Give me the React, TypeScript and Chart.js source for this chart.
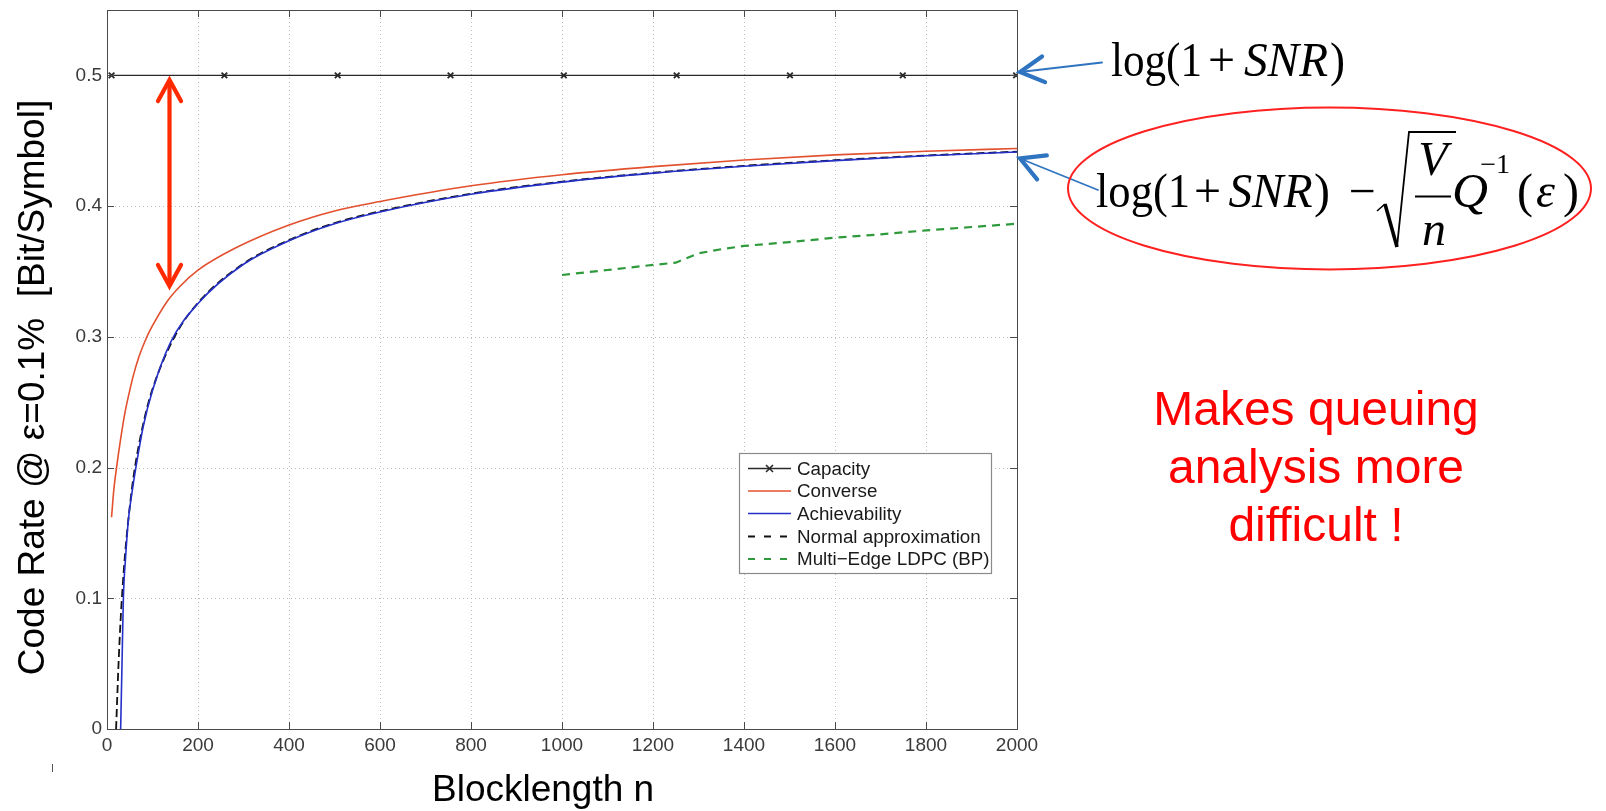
import React, { useEffect, useRef } from "react";
import { Chart, registerables } from "chart.js";

Chart.register(...registerables);

// ---------- data ----------
const xTickValues = [0, 200, 400, 600, 800, 1000, 1200, 1400, 1600, 1800, 2000];
const yTickValues = [0, 0.1, 0.2, 0.3, 0.4, 0.5];

const capacityN = [10, 258, 507, 755, 1004, 1252, 1501, 1749, 1998];
const capacityRate = [0.5, 0.5, 0.5, 0.5, 0.5, 0.5, 0.5, 0.5, 0.5];

const converseN = [10, 15, 21, 30, 40, 50, 58, 70, 87, 100, 131, 160, 200, 280, 400, 500, 600, 800, 1000, 1200, 1400, 1600, 1800, 2000];
const converseRate = [0.162, 0.183, 0.2, 0.222, 0.243, 0.259, 0.2705, 0.2845, 0.2995, 0.3085, 0.3265, 0.3385, 0.351, 0.3675, 0.3855, 0.3963, 0.4035, 0.4155, 0.424, 0.4302, 0.4352, 0.4392, 0.442, 0.444];

const achievN = [30, 33, 36, 41, 47, 55, 63, 80, 100, 140, 200, 300, 400, 500, 600, 800, 1000, 1200, 1400, 1600, 1800, 2000];
const achievRate = [0, 0.05, 0.1, 0.132, 0.16, 0.181, 0.199, 0.232, 0.259, 0.296, 0.3255, 0.3555, 0.3735, 0.3865, 0.3955, 0.409, 0.4183, 0.4252, 0.4305, 0.4348, 0.4385, 0.4414];

const normalN = [20, 25, 30, 35, 40, 50, 60, 80, 100, 150, 200, 300, 400, 500, 600, 800, 1000, 1200, 1400, 1600, 1800, 2000];
const normalRate = [0, 0.047, 0.084, 0.112, 0.135, 0.17, 0.197, 0.234, 0.26, 0.301, 0.326, 0.356, 0.374, 0.387, 0.396, 0.4095, 0.4187, 0.4255, 0.4308, 0.4351, 0.4387, 0.4417];

const ldpcN = [1000, 1100, 1200, 1250, 1300, 1350, 1400, 1500, 1600, 1700, 1800, 1900, 2000];
const ldpcRate = [0.3473, 0.3511, 0.355, 0.3567, 0.3639, 0.367, 0.3695, 0.3725, 0.3758, 0.3784, 0.3814, 0.384, 0.3865];

const seriesLabels = ["Capacity", "Converse", "Achievability", "Normal approximation", "Multi\u2212Edge LDPC (BP)"];
const xTitle = "Blocklength n";
const yTitle = "Code Rate @ \u03b5=0.1%  [Bit/Symbol]";
const noteLines = ["Makes queuing", "analysis more", "difficult !"];

const SANS = '"Liberation Sans", Arial, Helvetica, sans-serif';
const SERIF = '"Liberation Serif", "Times New Roman", serif';

const C_CAP = "#2a2a2a";
const C_CONV = "#e2502e";
const C_ACH = "#2530c8";
const C_NORM = "#111111";
const C_LDPC = "#2f9a3c";

function pts(xs: number[], ys: number[]) {
  return xs.map((x, i) => ({ x, y: ys[i] }));
}

function drawArrowHead(ctx: any, x1: number, y1: number, x2: number, y2: number, len: number, ang: number) {
  const a = Math.atan2(y2 - y1, x2 - x1);
  ctx.beginPath();
  ctx.moveTo(x2 - len * Math.cos(a - ang), y2 - len * Math.sin(a - ang));
  ctx.lineTo(x2, y2);
  ctx.lineTo(x2 - len * Math.cos(a + ang), y2 - len * Math.sin(a + ang));
  ctx.stroke();
}

function drawArrow(ctx: any, x1: number, y1: number, x2: number, y2: number, len: number, ang: number, shaftW: number, headW: number, color: string) {
  ctx.save();
  ctx.strokeStyle = color;
  ctx.lineCap = "round";
  ctx.lineJoin = "miter";
  ctx.lineWidth = shaftW;
  ctx.beginPath();
  ctx.moveTo(x1, y1);
  ctx.lineTo(x2, y2);
  ctx.stroke();
  ctx.lineWidth = headW;
  drawArrowHead(ctx, x1, y1, x2, y2, len, ang);
  ctx.restore();
}

function fitText(ctx: any, text: string, x: number, y: number, font: string, width?: number) {
  ctx.save();
  ctx.font = font;
  ctx.textAlign = "left";
  ctx.textBaseline = "alphabetic";
  const w = ctx.measureText(text).width;
  ctx.translate(x, y);
  if (width) ctx.scale(width / w, 1);
  ctx.fillText(text, 0, 0);
  ctx.restore();
}

function centerText(ctx: any, text: string, x: number, y: number, font: string) {
  ctx.save();
  ctx.font = font;
  ctx.textAlign = "center";
  ctx.textBaseline = "alphabetic";
  ctx.fillText(text, x, y);
  ctx.restore();
}

const annotations = {
  id: "annotations",
  beforeDatasetsDraw(chart: any) {
    const ctx = chart.ctx;
    const { left, right, top, bottom } = chart.chartArea;
    const xs = chart.scales.x;
    const ys = chart.scales.y;
    ctx.save();
    ctx.strokeStyle = "#bcbcbc";
    ctx.lineWidth = 1;
    ctx.setLineDash([1, 3]);
    xTickValues.forEach((v) => {
      const px = Math.round(xs.getPixelForValue(v)) + 0.5;
      ctx.beginPath();
      ctx.moveTo(px, top);
      ctx.lineTo(px, bottom);
      ctx.stroke();
    });
    yTickValues.forEach((v) => {
      const py = Math.round(ys.getPixelForValue(v)) + 0.5;
      ctx.beginPath();
      ctx.moveTo(left, py);
      ctx.lineTo(right, py);
      ctx.stroke();
    });
    ctx.restore();
  },
  afterDraw(chart: any) {
    const ctx = chart.ctx;
    const { left, right, top, bottom } = chart.chartArea;
    const xs = chart.scales.x;
    const ys = chart.scales.y;

    // axes box and inward tick marks
    ctx.save();
    ctx.strokeStyle = "#4a4a4a";
    ctx.lineWidth = 1;
    ctx.setLineDash([]);
    ctx.strokeRect(Math.round(left) + 0.5, Math.round(top) + 0.5, Math.round(right - left), Math.round(bottom - top));
    ctx.beginPath();
    xTickValues.forEach((v) => {
      const px = Math.round(xs.getPixelForValue(v)) + 0.5;
      ctx.moveTo(px, bottom);
      ctx.lineTo(px, bottom - 7);
      ctx.moveTo(px, top);
      ctx.lineTo(px, top + 7);
    });
    yTickValues.forEach((v) => {
      const py = Math.round(ys.getPixelForValue(v)) + 0.5;
      ctx.moveTo(left, py);
      ctx.lineTo(left + 7, py);
      ctx.moveTo(right, py);
      ctx.lineTo(right - 7, py);
    });
    ctx.stroke();
    ctx.restore();

    // axis titles
    ctx.save();
    ctx.fillStyle = "#000";
    ctx.font = `37px ${SANS}`;
    ctx.textAlign = "left";
    ctx.textBaseline = "alphabetic";
    ctx.fillText(xTitle, 432, 801);
    ctx.translate(44, 387.5);
    ctx.rotate(-Math.PI / 2);
    ctx.textAlign = "center";
    ctx.fillText(yTitle, 0, 0);
    ctx.restore();

    // small mark under the axis
    ctx.save();
    ctx.strokeStyle = "#555";
    ctx.lineWidth = 1;
    ctx.beginPath();
    ctx.moveTo(52.5, 764);
    ctx.lineTo(52.5, 772);
    ctx.stroke();
    ctx.restore();

    // legend
    const ds = chart.data.datasets;
    const lx = 739, ly = 453, lw = 252, lh = 120;
    ctx.save();
    ctx.fillStyle = "#fff";
    ctx.fillRect(lx, ly, lw, lh);
    ctx.strokeStyle = "#8a8a8a";
    ctx.lineWidth = 1.2;
    ctx.strokeRect(lx + 0.5, ly + 0.5, lw, lh);
    const rowY = [468.5, 491, 513.5, 536.5, 559];
    const order = [0, 1, 2, 3, 4];
    order.forEach((di, k) => {
      const d = ds[di];
      const y = rowY[k];
      ctx.save();
      ctx.strokeStyle = d.borderColor;
      ctx.lineWidth = d.borderWidth;
      ctx.setLineDash(d.borderDash && d.borderDash.length ? [7, 9] : []);
      ctx.beginPath();
      ctx.moveTo(748, y);
      ctx.lineTo(791, y);
      ctx.stroke();
      if (di === 0) {
        ctx.setLineDash([]);
        ctx.lineWidth = 1.6;
        ctx.beginPath();
        ctx.moveTo(766, y - 3.5);
        ctx.lineTo(773, y + 3.5);
        ctx.moveTo(766, y + 3.5);
        ctx.lineTo(773, y - 3.5);
        ctx.stroke();
      }
      ctx.restore();
      ctx.fillStyle = "#1a1a1a";
      ctx.font = `18.8px ${SANS}`;
      ctx.textAlign = "left";
      ctx.textBaseline = "middle";
      ctx.fillText(d.label, 797, y + 1);
    });
    ctx.restore();

    // red double arrow
    ctx.save();
    ctx.strokeStyle = "#ff2a00";
    ctx.lineWidth = 4.2;
    ctx.lineCap = "round";
    ctx.lineJoin = "miter";
    ctx.beginPath();
    ctx.moveTo(169.5, 82);
    ctx.lineTo(169.5, 284);
    ctx.stroke();
    drawArrowHead(ctx, 169.5, 180, 169.5, 80, 24, 0.5);
    drawArrowHead(ctx, 169.5, 180, 169.5, 286, 24, 0.5);
    ctx.restore();

    // blue arrows
    drawArrow(ctx, 1102, 62.5, 1020, 72, 27, 0.5, 1.8, 4.2, "#2f74c0");
    drawArrow(ctx, 1098, 190, 1020, 158.5, 27, 0.5, 1.8, 4.2, "#2f74c0");

    // formula 1: log(1 + SNR)
    ctx.save();
    ctx.fillStyle = "#000";
    const F = `48px ${SERIF}`;
    const FI = `italic 48px ${SERIF}`;
    fitText(ctx, "log(1", 1111, 76, F, 91);
    centerText(ctx, "+", 1221.5, 76, F);
    fitText(ctx, "SNR", 1244, 76, FI, 84);
    fitText(ctx, ")", 1330, 76, F, 15);

    // formula 2: log(1 + SNR) - sqrt(V/n) Q^-1(eps)
    fitText(ctx, "log(1", 1096, 207, F, 94);
    centerText(ctx, "+", 1207.5, 207, F);
    fitText(ctx, "SNR", 1228.5, 207, FI, 84);
    fitText(ctx, ")", 1314, 207, F, 16);
    centerText(ctx, "\u2212", 1362, 207, F);
    // radical
    ctx.strokeStyle = "#000";
    ctx.lineJoin = "miter";
    ctx.lineCap = "butt";
    ctx.lineWidth = 1.6;
    ctx.beginPath();
    ctx.moveTo(1377, 211);
    ctx.lineTo(1385, 204);
    ctx.stroke();
    ctx.lineWidth = 3.6;
    ctx.beginPath();
    ctx.moveTo(1385, 204);
    ctx.lineTo(1397, 247);
    ctx.stroke();
    ctx.lineWidth = 1.8;
    ctx.beginPath();
    ctx.moveTo(1397, 247);
    ctx.lineTo(1409, 132);
    ctx.lineTo(1456, 132);
    ctx.stroke();
    // fraction V / n
    centerText(ctx, "V", 1433, 175, FI);
    ctx.lineWidth = 2;
    ctx.beginPath();
    ctx.moveTo(1415, 196.5);
    ctx.lineTo(1451, 196.5);
    ctx.stroke();
    centerText(ctx, "n", 1434, 245, FI);
    fitText(ctx, "Q", 1452, 207, FI, 36);
    fitText(ctx, "\u22121", 1480, 173, `27px ${SERIF}`, 30);
    fitText(ctx, "(", 1517, 207, F);
    fitText(ctx, "\u03b5", 1536, 207, FI);
    fitText(ctx, ")", 1563, 207, F);
    ctx.restore();

    // red ellipse
    ctx.save();
    ctx.strokeStyle = "#ff2020";
    ctx.lineWidth = 2;
    ctx.beginPath();
    ctx.ellipse(1329.5, 188.5, 261.5, 81, 0, 0, Math.PI * 2);
    ctx.stroke();
    ctx.restore();

    // red note
    ctx.save();
    ctx.fillStyle = "#ff0000";
    ctx.font = `48px ${SANS}`;
    ctx.textAlign = "center";
    ctx.textBaseline = "alphabetic";
    const baselines = [425, 483, 541];
    noteLines.forEach((t, i) => ctx.fillText(t, 1316, baselines[i]));
    ctx.restore();
  },
};

export default function App() {
  const ref = useRef<HTMLCanvasElement>(null);

  useEffect(() => {
    const canvas = ref.current as HTMLCanvasElement;
    const chart = new Chart(canvas, {
      type: "line",
      data: {
        datasets: [
          {
            label: seriesLabels[0],
            data: pts(capacityN, capacityRate),
            borderColor: C_CAP,
            backgroundColor: C_CAP,
            borderWidth: 1.3,
            pointStyle: "crossRot",
            pointRadius: 4,
            pointBorderWidth: 1.8,
            pointBorderColor: C_CAP,
            tension: 0,
          },
          {
            label: seriesLabels[1],
            data: pts(converseN, converseRate),
            borderColor: C_CONV,
            borderWidth: 1.6,
            pointRadius: 0,
            cubicInterpolationMode: "monotone",
          },
          {
            label: seriesLabels[2],
            data: pts(achievN, achievRate),
            borderColor: C_ACH,
            borderWidth: 1.6,
            pointRadius: 0,
            cubicInterpolationMode: "monotone",
          },
          {
            label: seriesLabels[3],
            data: pts(normalN, normalRate),
            borderColor: C_NORM,
            borderWidth: 1.8,
            borderDash: [8, 4],
            pointRadius: 0,
            cubicInterpolationMode: "monotone",
          },
          {
            label: seriesLabels[4],
            data: pts(ldpcN, ldpcRate),
            borderColor: C_LDPC,
            borderWidth: 2.2,
            borderDash: [8, 6],
            pointRadius: 0,
            tension: 0,
          },
        ],
      } as any,
      options: {
        responsive: false,
        animation: false,
        devicePixelRatio: 1,
        layout: { padding: { left: 0, top: 10, right: 589, bottom: 0 } },
        plugins: {
          legend: { display: false },
          tooltip: { enabled: false },
          title: { display: false },
        },
        scales: {
          x: {
            type: "linear",
            min: 0,
            max: 2000,
            afterFit(s: any) {
              s.height = 82;
              s.paddingLeft = 0;
              s.paddingRight = 0;
              s.paddingTop = 0;
              s.paddingBottom = 0;
            },
            afterBuildTicks(s: any) {
              s.ticks = xTickValues.map((v) => ({ value: v }));
            },
            ticks: {
              autoSkip: false,
              maxRotation: 0,
              padding: 5,
              color: "#3a3a3a",
              font: { family: SANS, size: 19 },
              callback: (v: any) => String(v),
            },
            grid: { display: false, drawTicks: false },
            border: { display: false },
          },
          y: {
            type: "linear",
            min: 0,
            max: 0.55,
            afterFit(s: any) {
              s.width = 107;
              s.paddingLeft = 0;
              s.paddingRight = 0;
              s.paddingTop = 0;
              s.paddingBottom = 0;
            },
            afterBuildTicks(s: any) {
              s.ticks = yTickValues.map((v) => ({ value: v }));
            },
            ticks: {
              autoSkip: false,
              padding: 5,
              color: "#3a3a3a",
              font: { family: SANS, size: 19 },
              callback: (v: any) => String(v),
            },
            grid: { display: false, drawTicks: false },
            border: { display: false },
          },
        },
      } as any,
      plugins: [annotations],
    });
    return () => chart.destroy();
  }, []);

  return (
    <div style={{ position: "fixed", left: 0, top: 0, width: 1606, height: 811, background: "#fff" }}>
      <canvas ref={ref} width={1606} height={811} style={{ display: "block" }} />
    </div>
  );
}
